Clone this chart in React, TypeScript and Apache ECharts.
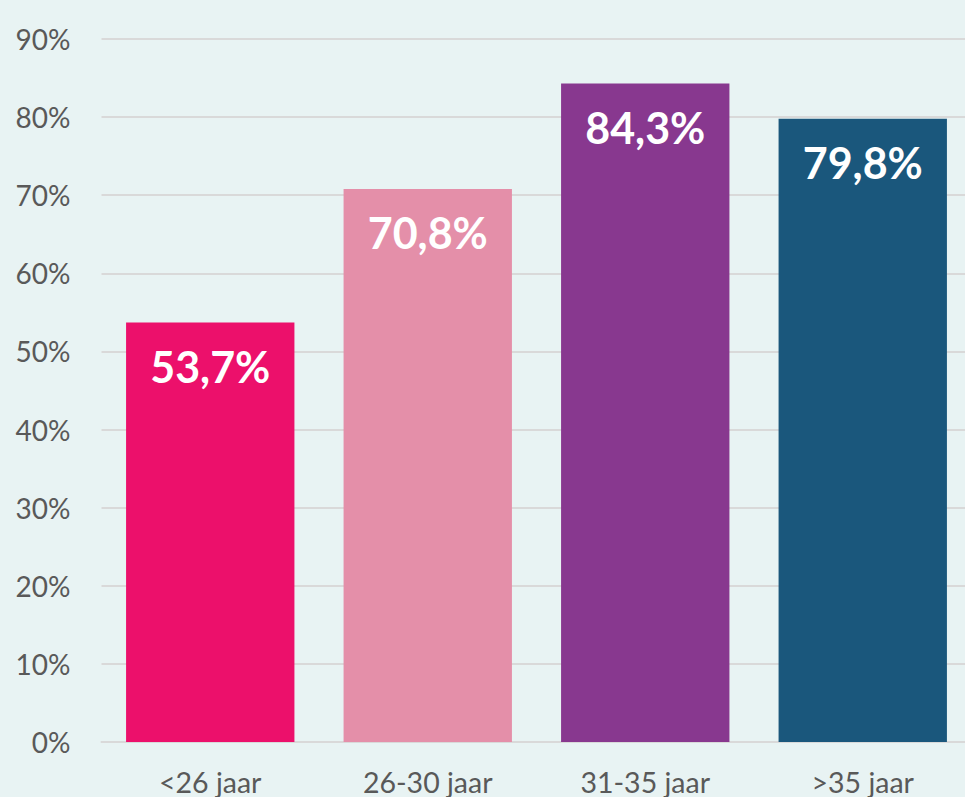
import React, { useEffect, useRef } from "react";
import * as echarts from "echarts";

const categories = ["<26 jaar", "26-30 jaar", "31-35 jaar", ">35 jaar"];
const values = [53.7, 70.8, 84.3, 79.8];
const barColors = ["#EC106B", "#E48FA9", "#88388F", "#1A577C"];
const yTicks = [0, 10, 20, 30, 40, 50, 60, 70, 80, 90];

export default function App() {
  const ref = useRef<HTMLDivElement>(null);
  useEffect(() => {
    document.body.style.margin = "0";
    document.body.style.overflow = "hidden";
    document.documentElement.style.overflow = "hidden";
    const chart = echarts.init(ref.current!, null, { renderer: "svg" });
    chart.setOption({
      animation: false,
      backgroundColor: "#E8F3F3",
      textStyle: { fontFamily: "Lato" },
      grid: { left: 101.5, top: 39, right: 3.5, bottom: 55, containLabel: false },
      xAxis: {
        type: "category",
        data: categories,
        axisLine: { show: true, lineStyle: { color: "#D9D9D9", width: 2 } },
        axisTick: { show: false },
        axisLabel: { color: "#595959", fontSize: 28.5, margin: 25, fontFamily: "Lato" },
      },
      yAxis: {
        type: "value",
        min: yTicks[0],
        max: yTicks[yTicks.length - 1],
        interval: 10,
        axisLine: { show: false },
        axisTick: { show: false },
        splitLine: { lineStyle: { color: "#D9D9D9", width: 2 } },
        axisLabel: {
          color: "#595959",
          fontSize: 28,
          margin: 31,
          fontFamily: "Lato",
          formatter: (v: number) => `${v}%`,
        },
      },
      series: [
        {
          type: "bar",
          barCategoryGap: "22.6%",
          data: values.map((v, i) => ({ value: v, itemStyle: { color: barColors[i] } })),
          label: {
            show: true,
            position: "insideTop",
            distance: 22,
            color: "#FFFFFF",
            fontWeight: "bold",
            fontSize: 43,
            fontFamily: "Lato",
            formatter: (p: any) => `${p.value.toFixed(1).replace(".", ",")}%`,
          },
        },
      ],
    });
    return () => chart.dispose();
  }, []);
  return (
    <div
      ref={ref}
      style={{ position: "absolute", left: 0, top: 0, width: 975, height: 797 }}
    />
  );
}
